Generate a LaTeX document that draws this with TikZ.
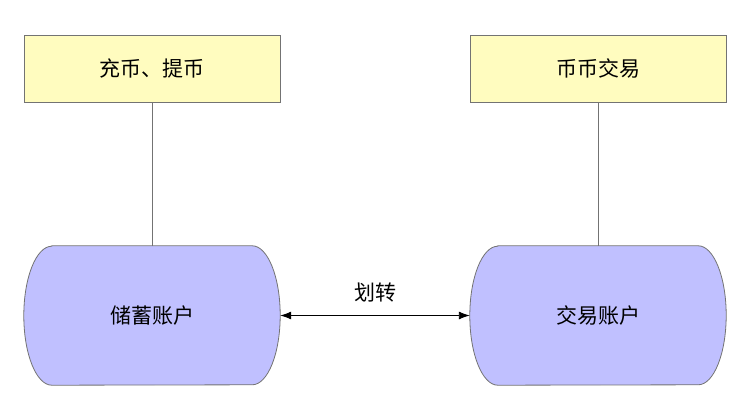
\documentclass[tikz,border=0pt]{standalone}
\usepackage{fontspec}
\setmainfont{Noto Sans CJK SC}
\usetikzlibrary{arrows.meta}
\tikzset{
  label/.style={font=\fontsize{21}{24}\selectfont},
  task/.style={draw=gray!90!black, fill=yellow!25, minimum width=256pt, minimum height=67pt, inner sep=0pt, label},
  acct/.style={minimum width=256pt, minimum height=139pt, inner sep=0pt, label},
  accshape/.style={draw=gray!90!black, fill={rgb,255:red,192;green,192;blue,255}, line width=0.8pt},
  link/.style={draw=gray!90!black, line width=0.8pt}
}
\newcommand{\accbody}[1]{%
  \path[accshape] ([xshift=28pt]#1.north west) -- ([xshift=-28pt]#1.north east)
    arc[start angle=-90, end angle=90, x radius=28, y radius=69.5]
    -- ([xshift=28pt]#1.south west)
    arc[start angle=90, end angle=270, x radius=28, y radius=69.5] -- cycle;}
\begin{document}
\begin{tikzpicture}[x=1pt,y=-1pt]
  \useasboundingbox (0,0) rectangle (751,409);
  \node[task] (deposit) at (152,68.5) {充币、提币};
  \node[task] (spot) at (598,68.5) {币币交易};
  \node[acct] (saving) at (152,315.5) {};
  \node[acct] (trading) at (598,315.5) {};
  \accbody{saving}
  \accbody{trading}
  \node[label] at (saving) {储蓄账户};
  \node[label] at (trading) {交易账户};
  \draw[link] (deposit) -- (saving);
  \draw[link] (spot) -- (trading);
  \draw[{Latex[length=11pt,width=8pt]}-{Latex[length=11pt,width=8pt]}, line width=0.9pt]
    (saving.east) -- node[above=10pt, label] {划转} (trading.west);
\end{tikzpicture}
\end{document}
